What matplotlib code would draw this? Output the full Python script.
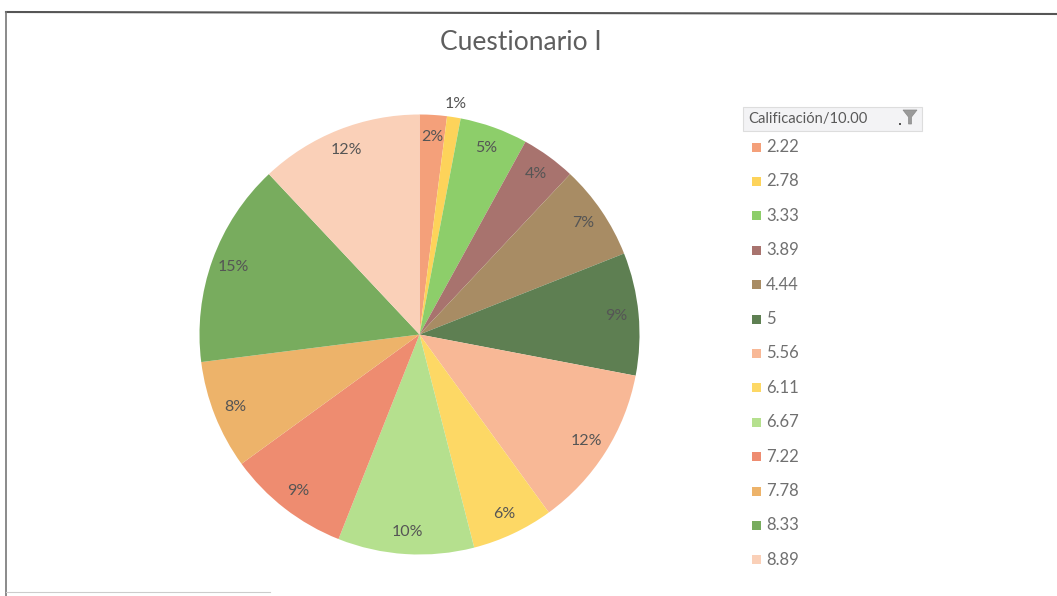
import matplotlib
matplotlib.use("Agg")
import matplotlib.pyplot as plt
from matplotlib.patches import Rectangle, Polygon
from matplotlib.lines import Line2D
import numpy as np

plt.rcParams['font.family'] = ['Lato', 'DejaVu Sans']

title = "Cuestionario I"
legend_title = "Calificación/10.00"
categories = ["2.22", "2.78", "3.33", "3.89", "4.44", "5", "5.56",
              "6.11", "6.67", "7.22", "7.78", "8.33", "8.89"]
percents = [2, 1, 5, 4, 7, 9, 12, 6, 10, 9, 8, 15, 12]
colors = ["#F4A07A", "#FDD35A", "#8DCE6A", "#A8736E", "#A88C64", "#5E7F52",
          "#F8B896", "#FDD865", "#B5E08E", "#EE8C70", "#EDB36A", "#78AC5E",
          "#FAD0B8"]

W, H = 1057, 596
fig = plt.figure(figsize=(W / 100, H / 100), dpi=100)
fig.patch.set_facecolor("white")

def fx(x):
    return x / W

def fy(y):
    return 1 - y / H

# pie axes
cx, cy, r = 419.5, 334.5, 220
ax = fig.add_axes([fx(cx - r), fy(cy + r), 2 * r / W, 2 * r / H])
wedges, _ = ax.pie(percents, colors=colors, startangle=90, counterclock=False,
                   radius=1.0, wedgeprops=dict(linewidth=0))
ax.set_xlim(-1, 1)
ax.set_ylim(-1, 1)
ax.set_aspect("equal")
ax.axis("off")

for w, p in zip(wedges, percents):
    ang = np.deg2rad((w.theta1 + w.theta2) / 2)
    rr = 0.9 if p >= 2 else 1.06
    ax.text(rr * np.cos(ang), rr * np.sin(ang), f"{p}%", ha="center", va="center",
            fontsize=11.5, color="#555555")

# title
fig.text(fx(521), fy(42), title, ha="center", va="center", fontsize=19,
         color="#5E5E5E")

# legend header box
fig.add_artist(Rectangle((fx(743), fy(131)), 179 / W, 24 / H, transform=fig.transFigure,
                         facecolor="#F3F3F5", edgecolor="#DDDDDD", linewidth=0.8))
fig.text(fx(748), fy(119), legend_title, ha="left", va="center", fontsize=10.6,
         color="#595959")
# filter icon
fig.add_artist(Polygon([(fx(903), fy(110)), (fx(917), fy(110)), (fx(911.5), fy(117)),
                        (fx(911.5), fy(124)), (fx(908.5), fy(124)), (fx(908.5), fy(117))],
                       closed=True, transform=fig.transFigure, facecolor="#9A9A9A",
                       edgecolor="#8A8A8A", linewidth=0.5))
fig.add_artist(Rectangle((fx(898.5), fy(125)), 2.5 / W, 2.5 / H, transform=fig.transFigure,
                         facecolor="#555555", edgecolor="none"))

# legend entries
y0, dy = 147, 34.4
for i, (c, lab) in enumerate(zip(colors, categories)):
    yy = y0 + i * dy
    fig.add_artist(Rectangle((fx(752), fy(yy + 4.5)), 9 / W, 9 / H,
                             transform=fig.transFigure, facecolor=c, edgecolor="none"))
    fig.text(fx(766), fy(yy), lab, ha="left", va="center", fontsize=12,
             color="#707070")

# frame
fig.add_artist(Line2D([fx(6), fx(1057)], [fy(12), fy(14)], transform=fig.transFigure,
                      color="#555555", linewidth=1.5))
fig.add_artist(Line2D([fx(6), fx(6)], [fy(12), fy(596)], transform=fig.transFigure,
                      color="#777777", linewidth=1.2))
fig.add_artist(Line2D([fx(6), fx(270)], [fy(592), fy(592)], transform=fig.transFigure,
                      color="#CCCCCC", linewidth=0.8))

fig.savefig("out.png", dpi=100, facecolor="white")
